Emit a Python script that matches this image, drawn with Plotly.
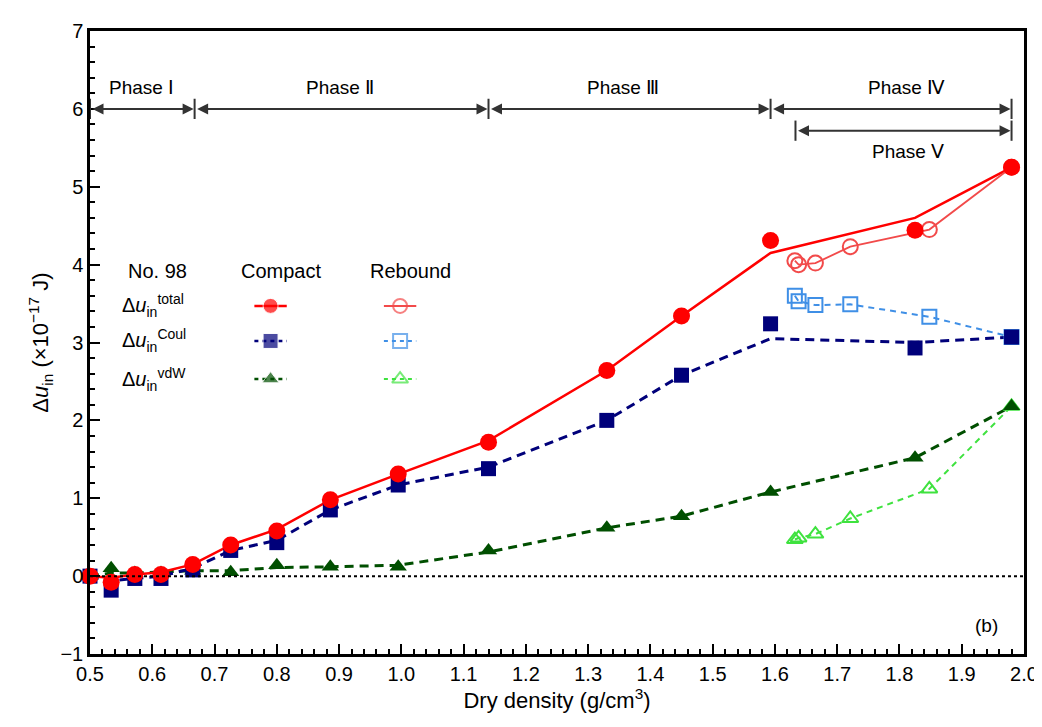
import plotly.graph_objects as go

# ---------------- data ----------------
x_compact = [0.500, 0.534, 0.572, 0.614, 0.665, 0.726, 0.800, 0.886, 0.995, 1.140, 1.330, 1.450, 1.593, 1.825, 1.980]
total_compact = [0.00, -0.08, 0.02, 0.02, 0.15, 0.40, 0.58, 0.98, 1.31, 1.72, 2.64, 3.34, 4.31, 4.44, 5.25]
coul_compact = [0.00, -0.18, -0.03, -0.03, 0.08, 0.33, 0.43, 0.85, 1.17, 1.38, 2.00, 2.58, 3.24, 2.93, 3.07]
vdw_compact = [0.00, 0.10, 0.04, 0.04, 0.07, 0.05, 0.14, 0.12, 0.12, 0.33, 0.62, 0.77, 1.08, 1.52, 2.18]

# smoothed curves drawn for the compaction series
total_curve = [0.00, -0.02, 0.02, 0.05, 0.15, 0.40, 0.60, 0.98, 1.31, 1.74, 2.64, 3.34, 4.15, 4.60, 5.25]
coul_curve = [0.00, -0.06, -0.03, 0.00, 0.10, 0.33, 0.46, 0.85, 1.17, 1.40, 2.00, 2.58, 3.05, 3.00, 3.07]
vdw_curve = [0.00, 0.04, 0.04, 0.05, 0.07, 0.07, 0.11, 0.12, 0.14, 0.31, 0.62, 0.77, 1.08, 1.52, 2.18]

x_rebound = [1.632, 1.638, 1.665, 1.721, 1.848, 1.980]
total_rebound = [4.05, 4.00, 4.02, 4.23, 4.45, 5.25]
coul_rebound = [3.60, 3.53, 3.48, 3.49, 3.33, 3.07]
vdw_rebound = [0.47, 0.49, 0.54, 0.74, 1.12, 2.18]

phase_bounds = [0.500, 0.668, 1.140, 1.593, 1.980]
phase_names = ["Phase Ⅰ", "Phase Ⅱ", "Phase Ⅲ", "Phase Ⅳ"]
phase_label_x = [0.583, 0.902, 1.356, 1.812]
phase5_bounds = [1.633, 1.980]
phase5_name = "Phase Ⅴ"
phase5_label_x = 1.813
phase_y = 6.0
phase5_y = 5.72

x_ticks = [0.5, 0.6, 0.7, 0.8, 0.9, 1.0, 1.1, 1.2, 1.3, 1.4, 1.5, 1.6, 1.7, 1.8, 1.9, 2.0]
y_ticks = [-1, 0, 1, 2, 3, 4, 5, 6, 7]

# legend layout (data coordinates)
legend_header_y = 3.92
legend_headers = ["No. 98", "Compact", "Rebound"]
legend_header_x = [0.609, 0.806, 1.014]
legend_rows_y = [3.47, 3.02, 2.53]
legend_row_labels = ["Δ<i>u</i><sub>in</sub><sup>total</sup>",
                     "Δ<i>u</i><sub>in</sub><sup>Coul</sup>",
                     "Δ<i>u</i><sub>in</sub><sup>vdW</sup>"]
legend_label_x = 0.548
legend_compact_x = 0.790
legend_rebound_x = 0.998
legend_half = 0.026

# ---------------- styles ----------------
RED = "#ff0000"
RED_L = "#f24a4a"
BLUE = "#00007a"
BLUE_L = "#3f8fe6"
GREEN = "#004f00"
GREEN_L = "#3fe23f"
FONT = "Liberation Sans, Arial, sans-serif"

fig = go.Figure()

# curves
fig.add_trace(go.Scatter(x=x_compact, y=vdw_curve, mode="lines",
                         line=dict(color=GREEN, width=3, dash="9px,6px"), hoverinfo="skip"))
fig.add_trace(go.Scatter(x=x_compact, y=coul_curve, mode="lines",
                         line=dict(color=BLUE, width=3, dash="9px,6px"), hoverinfo="skip"))
fig.add_trace(go.Scatter(x=x_compact, y=total_curve, mode="lines",
                         line=dict(color=RED, width=2.5), hoverinfo="skip"))

# rebound series
fig.add_trace(go.Scatter(x=x_rebound, y=vdw_rebound, mode="lines+markers",
                         line=dict(color=GREEN_L, width=2, dash="6px,5px"),
                         marker=dict(symbol="triangle-up-open", size=14, color=GREEN_L, line=dict(width=2)),
                         cliponaxis=False))
fig.add_trace(go.Scatter(x=x_rebound, y=coul_rebound, mode="lines+markers",
                         line=dict(color=BLUE_L, width=2, dash="6px,5px"),
                         marker=dict(symbol="square-open", size=14, color=BLUE_L, line=dict(width=2)),
                         cliponaxis=False))
fig.add_trace(go.Scatter(x=x_rebound, y=total_rebound, mode="lines+markers",
                         line=dict(color=RED_L, width=1.8),
                         marker=dict(symbol="circle-open", size=15, color=RED_L, line=dict(width=2)),
                         cliponaxis=False))

# compact markers
fig.add_trace(go.Scatter(x=x_compact, y=vdw_compact, mode="markers",
                         marker=dict(symbol="triangle-up", size=15, color=GREEN), cliponaxis=False))
fig.add_trace(go.Scatter(x=x_compact, y=coul_compact, mode="markers",
                         marker=dict(symbol="square", size=15, color=BLUE), cliponaxis=False))
fig.add_trace(go.Scatter(x=x_compact, y=total_compact, mode="markers",
                         marker=dict(symbol="circle", size=17, color=RED), cliponaxis=False))

# legend samples
styles = [
    (RED, "solid", "circle", RED_L, "solid", "circle-open"),
    (BLUE, "4px,4px", "square", BLUE_L, "4px,4px", "square-open"),
    (GREEN, "4px,4px", "triangle-up", GREEN_L, "4px,4px", "triangle-up-open"),
]
for ry, (c1, d1, s1, c2, d2, s2) in zip(legend_rows_y, styles):
    fig.add_trace(go.Scatter(x=[legend_compact_x - legend_half, legend_compact_x, legend_compact_x + legend_half],
                             y=[ry, ry, ry], mode="lines+markers",
                             line=dict(color=c1, width=2.5, dash=d1),
                             marker=dict(symbol=s1, size=[0, 15, 0], color=c1)))
    fig.add_trace(go.Scatter(x=[legend_rebound_x - legend_half, legend_rebound_x, legend_rebound_x + legend_half],
                             y=[ry, ry, ry], mode="lines+markers",
                             line=dict(color=c2, width=2, dash=d2),
                             marker=dict(symbol=s2, size=[0, 14, 0], color=c2, line=dict(width=2))))

annotations = []
shapes = []

# zero dotted line
shapes.append(dict(type="line", xref="x", yref="y", x0=x_ticks[0], x1=x_ticks[-1], y0=0, y1=0,
                   line=dict(color="black", width=2, dash="dot")))

ARROW = "#333333"
# phase arrows
for i in range(len(phase_bounds) - 1):
    a, b = phase_bounds[i], phase_bounds[i + 1]
    annotations.append(dict(x=b, y=phase_y, ax=a, ay=phase_y, xref="x", yref="y", axref="x", ayref="y",
                            text="", showarrow=True, arrowside="end+start", arrowhead=2, startarrowhead=2,
                            arrowsize=1.1, startarrowsize=1.1, arrowwidth=2, arrowcolor=ARROW,
                            standoff=1, startstandoff=1))
    annotations.append(dict(x=phase_label_x[i], y=6.28, xref="x", yref="y", text=phase_names[i],
                            showarrow=False, font=dict(family=FONT, size=19, color="black")))
for bx in phase_bounds:
    shapes.append(dict(type="line", xref="x", yref="y", x0=bx, x1=bx, y0=phase_y - 0.13, y1=phase_y + 0.13,
                       line=dict(color=ARROW, width=2)))

a, b = phase5_bounds
annotations.append(dict(x=b, y=phase5_y, ax=a, ay=phase5_y, xref="x", yref="y", axref="x", ayref="y",
                        text="", showarrow=True, arrowside="end+start", arrowhead=2, startarrowhead=2,
                        arrowsize=1.1, startarrowsize=1.1, arrowwidth=2, arrowcolor=ARROW,
                        standoff=1, startstandoff=1))
for bx in phase5_bounds:
    shapes.append(dict(type="line", xref="x", yref="y", x0=bx, x1=bx, y0=phase5_y - 0.13, y1=phase5_y + 0.13,
                       line=dict(color=ARROW, width=2)))
annotations.append(dict(x=phase5_label_x, y=5.45, xref="x", yref="y", text=phase5_name,
                        showarrow=False, font=dict(family=FONT, size=19, color="black")))

# legend texts
for hx, ht in zip(legend_header_x, legend_headers):
    annotations.append(dict(x=hx, y=legend_header_y, xref="x", yref="y", text=ht, showarrow=False,
                            font=dict(family=FONT, size=20, color="black")))
for ry, lt in zip(legend_rows_y, legend_row_labels):
    annotations.append(dict(x=legend_label_x, y=ry, xref="x", yref="y", text=lt, showarrow=False,
                            xanchor="left", font=dict(family=FONT, size=20, color="black")))

annotations.append(dict(x=1.94, y=-0.63, xref="x", yref="y", text="(b)", showarrow=False,
                        font=dict(family=FONT, size=19, color="black")))

fig.update_layout(
    width=1042, height=727,
    margin=dict(l=82, r=22, t=22, b=81),
    paper_bgcolor="white", plot_bgcolor="white",
    showlegend=False,
    font=dict(family=FONT, size=20, color="black"),
    annotations=annotations, shapes=shapes,
)
fig.update_xaxes(range=[x_ticks[0], x_ticks[-1]], tickvals=x_ticks,
                 ticktext=[f"{v:.1f}" for v in x_ticks],
                 ticks="inside", ticklen=10, tickwidth=2, tickcolor="black",
                 minor=dict(ticks="inside", ticklen=5, dtick=0.02, tickwidth=1.5, tickcolor="black"),
                 showline=True, linewidth=2.5, linecolor="black", mirror=True,
                 showgrid=False, zeroline=False,
                 tickfont=dict(family=FONT, size=20),
                 title=dict(text="Dry density (g/cm<sup>3</sup>)", font=dict(family=FONT, size=22), standoff=8))
fig.update_yaxes(range=[y_ticks[0], y_ticks[-1]], tickvals=y_ticks,
                 ticks="inside", ticklen=10, tickwidth=2, tickcolor="black",
                 minor=dict(ticks="inside", ticklen=5, dtick=0.2, tickwidth=1.5, tickcolor="black"),
                 showline=True, linewidth=2.5, linecolor="black", mirror=True,
                 showgrid=False, zeroline=False,
                 tickfont=dict(family=FONT, size=20),
                 title=dict(text="Δ<i>u</i><sub>in</sub> (×10<sup>−17</sup> J)", font=dict(family=FONT, size=22),
                            standoff=6))

fig.write_html("out.html")
